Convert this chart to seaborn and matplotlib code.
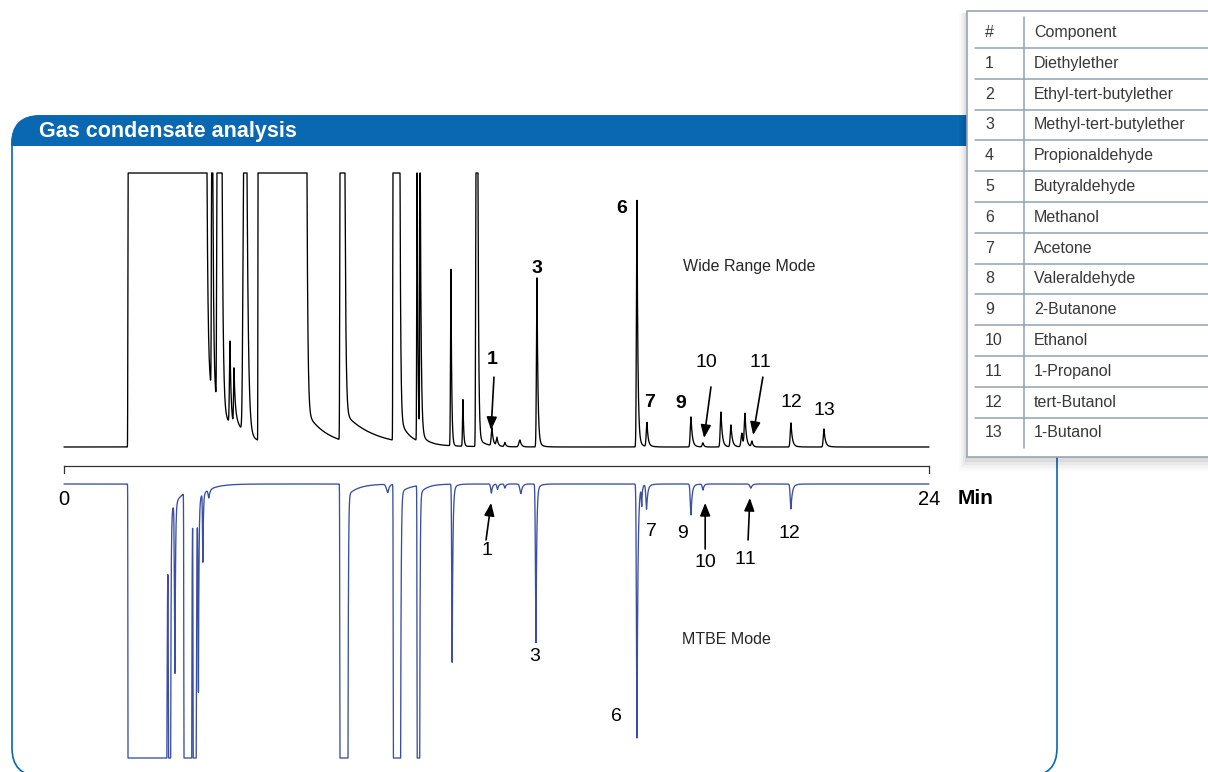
import numpy as np
import pandas as pd
import matplotlib.pyplot as plt
import seaborn as sns
from matplotlib.patches import FancyBboxPatch, Rectangle

W, H = 1208, 772

# retention time axis (minutes)
t = np.linspace(0, 24, 12001)

# Wide Range Mode peak table (off-scale peaks have a plateau from start to end)
wr_start = [1.776, 4.100, 4.245, 4.606, 4.717, 4.990, 5.383, 7.658, 9.128, 9.794, 9.877,
            10.737, 11.070, 11.430, 11.875, 12.014, 12.236, 12.652, 13.124, 15.898, 16.176,
            17.397, 17.729, 18.229, 18.506, 18.811, 18.895, 19.089, 20.171, 21.087]
wr_end = [3.968, 4.125, 4.384, 4.606, 4.717, 5.077, 6.742, 7.796, 9.323, 9.800, 9.885,
          10.737, 11.070, 11.487, 11.875, 12.014, 12.236, 12.652, 13.124, 15.898, 16.176,
          17.397, 17.729, 18.229, 18.506, 18.811, 18.895, 19.089, 20.171, 21.087]
wr_height = [100, 100, 100, 30, 21, 100, 100, 100, 100, 100, 100,
             64.6, 17, 100, 6.5, 3, 1.5, 2.5, 61.7, 90, 8.8,
             11, 1.5, 12.8, 8, 5, 12, 2, 8.8, 6.6]
wr_rise = [0.005, 0.01, 0.01, 0.015, 0.012, 0.025, 0.004, 0.008, 0.006, 0.008, 0.008,
           0.012, 0.012, 0.01, 0.02, 0.02, 0.02, 0.03, 0.015, 0.015, 0.02,
           0.02, 0.02, 0.02, 0.02, 0.025, 0.02, 0.02, 0.02, 0.02]
wr_fall = [0.03, 0.025, 0.03, 0.03, 0.03, 0.04, 0.025, 0.025, 0.02, 0.02, 0.025,
           0.02, 0.02, 0.02, 0.03, 0.03, 0.03, 0.04, 0.025, 0.025, 0.03,
           0.035, 0.03, 0.035, 0.035, 0.03, 0.035, 0.03, 0.035, 0.035]
wr_tail_h = [25, 0, 0, 0, 6, 0, 12, 10, 8, 0, 3,
             0, 0, 3, 1, 0, 0, 0, 2, 3, 1,
             1, 0, 1, 1, 0, 1, 0, 1, 1]
wr_tail_tau = [0.6, 0.1, 0.1, 0.1, 0.15, 0.1, 0.6, 0.9, 0.25, 0.1, 0.2,
               0.1, 0.1, 0.2, 0.1, 0.1, 0.1, 0.1, 0.1, 0.1, 0.1,
               0.1, 0.1, 0.1, 0.1, 0.1, 0.1, 0.1, 0.1, 0.1]

# MTBE Mode peak table (plotted downwards)
mt_start = [1.776, 2.905, 3.080, 3.330, 3.585, 3.730, 3.853, 4.020, 7.658, 8.989, 9.140,
            9.800, 10.770, 11.860, 12.030, 12.236, 12.680, 13.096, 15.898, 16.030, 16.165,
            17.397, 17.730, 19.060, 20.170]
mt_end = [2.855, 2.960, 3.080, 3.545, 3.668, 3.730, 3.853, 4.020, 7.880, 8.989, 9.340,
          9.870, 10.770, 11.860, 12.030, 12.236, 12.680, 13.096, 15.898, 16.030, 16.165,
          17.397, 17.730, 19.060, 20.170]
mt_height = [100, 100, 62, 100, 100, 70, 25, 3, 100, 3, 100,
             100, 65, 3.3, 2, 1.5, 3.5, 57.9, 92.7, 7, 9,
             11.3, 2.2, 1.5, 9.1]
mt_rise = [0.004, 0.01, 0.015, 0.006, 0.006, 0.012, 0.01, 0.02, 0.006, 0.04, 0.006,
           0.006, 0.012, 0.02, 0.02, 0.02, 0.03, 0.015, 0.015, 0.012, 0.02,
           0.02, 0.02, 0.03, 0.02]
mt_fall = [0.02, 0.012, 0.015, 0.008, 0.012, 0.015, 0.015, 0.03, 0.012, 0.04, 0.015,
           0.012, 0.02, 0.03, 0.03, 0.03, 0.04, 0.02, 0.025, 0.015, 0.03,
           0.03, 0.03, 0.04, 0.035]
mt_tail_h = [0, 10, 0, 8, 0, 0, 0, 0, 4, 0, 3,
             3, 2, 0, 0, 0, 0, 2, 3, 0, 1,
             1, 0, 0, 1]
mt_tail_tau = [0.1, 0.35, 0.1, 0.3, 0.1, 0.1, 0.1, 0.1, 0.3, 0.1, 0.3,
               0.2, 0.1, 0.1, 0.1, 0.1, 0.1, 0.1, 0.1, 0.1, 0.1,
               0.1, 0.1, 0.1, 0.1]

# peak labels
wr_labels = ['1', '3', '6', '7', '9', '10', '11', '12', '13']
wr_label_t = [11.875, 13.12, 15.48, 16.26, 17.12, 17.81, 19.31, 20.17, 21.09]
wr_label_y = [32.1, 65.3, 86.9, 16.1, 15.7, 31.0, 30.7, 16.4, 13.5]
wr_label_bold = [True, True, True, True, True, False, False, False, False]
mt_labels = ['1', '3', '6', '7', '9', '10', '11', '12']
mt_label_t = [11.74, 13.07, 15.34, 16.29, 17.15, 17.79, 18.90, 20.12]
mt_label_y = [-24.1, -62.8, -85.0, -17.5, -17.9, -28.8, -27.7, -18.2]

components = ['Diethylether', 'Ethyl-tert-butylether', 'Methyl-tert-butylether',
              'Propionaldehyde', 'Butyraldehyde', 'Methanol', 'Acetone', 'Valeraldehyde',
              '2-Butanone', 'Ethanol', '1-Propanol', 'tert-Butanol', '1-Butanol']


def build_trace(start, end, height, rise, fall, tail_h, tail_tau):
    sig = np.zeros_like(t)
    for s, e, h, r, f, th, tt in zip(start, end, height, rise, fall, tail_h, tail_tau):
        d_before = np.minimum(t - s, 0)
        d_after = np.maximum(t - e, 0)
        before = h * np.exp(-0.5 * (d_before / r) ** 2)
        after = (h - th) * np.exp(-d_after / f) + th * np.exp(-d_after / tt)
        sig += np.where(t < s, before, np.where(t <= e, h, after))
    return np.minimum(sig, 100)  # detector off-scale


df = pd.DataFrame({
    'time': t,
    'wide': build_trace(wr_start, wr_end, wr_height, wr_rise, wr_fall, wr_tail_h, wr_tail_tau),
    'mtbe': -build_trace(mt_start, mt_end, mt_height, mt_rise, mt_fall, mt_tail_h, mt_tail_tau),
})

sns.set_theme(style='white')
plt.rcParams['font.family'] = ['Liberation Sans', 'DejaVu Sans']
plt.rcParams['text.kerning_factor'] = 10  # no tight "11"

fig = plt.figure(figsize=(W / 100, H / 100), dpi=100)

# decoration layer in pixel coordinates
deco = fig.add_axes([0, 0, 1, 1], zorder=0)
deco.set_xlim(0, W)
deco.set_ylim(H, 0)
deco.axis('off')

blue = '#0a67b2'
frame = FancyBboxPatch((12, 116), 1045, 660, boxstyle='round,pad=0,rounding_size=28',
                       facecolor='white', edgecolor=blue, lw=1.2)
deco.add_patch(frame)
header = FancyBboxPatch((12, 116), 1045, 660, boxstyle='round,pad=0,rounding_size=28',
                        facecolor=blue, edgecolor=blue, lw=1.2)
deco.add_patch(header)
header.set_clip_path(Rectangle((0, 115), W, 31, transform=deco.transData))
deco.text(39, 131, 'Gas condensate analysis', color='white', fontsize=15.5,
          fontweight='bold', va='center', ha='left')

# component table
for k, a in enumerate([0.05, 0.04, 0.03, 0.02]):
    deco.add_patch(Rectangle((967 - 2 - k * 2, 11 + 2), 260, 446 + 3 + k * 3,
                             facecolor='black', alpha=a, lw=0))
deco.add_patch(Rectangle((967, 11), 260, 446, facecolor='white', edgecolor='#9aa5b2', lw=1.2))
line_col = '#93a2b3'
row_y = [32.5 + 30.8 * i for i in range(14)]
for i in range(13):
    yy = (row_y[i] + row_y[i + 1]) / 2
    deco.plot([975, W], [yy, yy], color=line_col, lw=1.1)
deco.plot([1024, 1024], [17, 448], color=line_col, lw=1.1)
txt_col = '#383838'
deco.text(985, row_y[0], '#', fontsize=11.5, color=txt_col, va='center')
deco.text(1034, row_y[0], 'Component', fontsize=11.5, color=txt_col, va='center')
for i, name in enumerate(components):
    deco.text(985, row_y[i + 1], str(i + 1), fontsize=11.5, color=txt_col, va='center')
    deco.text(1034, row_y[i + 1], name, fontsize=11.5, color=txt_col, va='center')

deco.text(958, 498, 'Min', fontsize=15, fontweight='bold', color='black', va='center')

# Wide Range Mode trace
ax_wr = fig.add_axes([64 / W, (H - 447) / H, 865 / W, 274 / H], zorder=2)
sns.lineplot(data=df, x='time', y='wide', ax=ax_wr, color='black', lw=0.95,
             estimator=None, sort=False)
ax_wr.set_xlim(0, 24)
ax_wr.set_ylim(0, 100)

# MTBE Mode trace
ax_mt = fig.add_axes([64 / W, (H - 758) / H, 865 / W, 274 / H], zorder=2)
sns.lineplot(data=df, x='time', y='mtbe', ax=ax_mt, color='#3a4ea3', lw=0.95,
             estimator=None, sort=False)
ax_mt.set_xlim(0, 24)
ax_mt.set_ylim(-100, 0)

for ax in (ax_wr, ax_mt):
    ax.axis('off')
    ax.patch.set_alpha(0)
    for ln in ax.lines:
        ln.set_clip_on(False)

arrow = dict(arrowstyle='-|>,head_length=0.55,head_width=0.22', mutation_scale=14,
             lw=1.2, color='black', shrinkA=0, shrinkB=0)

for lab, x, y, b in zip(wr_labels, wr_label_t, wr_label_y, wr_label_bold):
    ax_wr.text(x, y, lab, fontsize=14, fontweight='bold' if b else 'normal',
               ha='center', va='center', color='black')
ax_wr.text(17.17, 65.7, 'Wide Range Mode', fontsize=11.5, ha='left', va='center')
ax_wr.annotate('', xy=(11.85, 6.2), xytext=(11.93, 25.5), arrowprops=arrow)
ax_wr.annotate('', xy=(17.76, 3.3), xytext=(17.95, 21.9), arrowprops=arrow)
ax_wr.annotate('', xy=(19.12, 4.4), xytext=(19.39, 25.5), arrowprops=arrow)

for lab, x, y in zip(mt_labels, mt_label_t, mt_label_y):
    ax_mt.text(x, y, lab, fontsize=14, ha='center', va='center', color='black')
ax_mt.text(17.15, -56.6, 'MTBE Mode', fontsize=11.5, ha='left', va='center')
ax_mt.annotate('', xy=(11.85, -6.9), xytext=(11.71, -20.4), arrowprops=arrow)
ax_mt.annotate('', xy=(17.79, -6.9), xytext=(17.79, -23.7), arrowprops=arrow)
ax_mt.annotate('', xy=(19.03, -5.1), xytext=(18.98, -20.4), arrowprops=arrow)

# time bracket
ax_t = fig.add_axes([64 / W, (H - 473) / H, 865 / W, 7 / H], zorder=1)
ax_t.set_xlim(0, 24)
ax_t.set_ylim(0, 1)
ax_t.patch.set_alpha(0)
ax_t.spines['bottom'].set_visible(False)
for s in ('top', 'left', 'right'):
    ax_t.spines[s].set_color('#333333')
    ax_t.spines[s].set_linewidth(0.9)
ax_t.set_yticks([])
ax_t.set_xticks([0, 24], ['0', '24'])
ax_t.tick_params(axis='x', length=0, pad=12, labelsize=14.5, labelcolor='black')

fig.savefig('out.png', dpi=100)
